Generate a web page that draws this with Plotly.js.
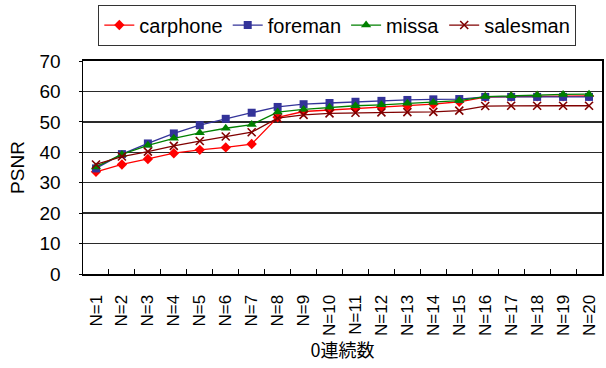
<!DOCTYPE html>
<html>
<head>
<meta charset="utf-8">
<script src="https://cdn.plot.ly/plotly-3.0.1.min.js"></script>
<style>
  html, body { margin: 0; padding: 0; background: #fff; }
  #chart { width: 606px; height: 368px; }
</style>
</head>
<body>
<div id="chart"></div>
<script>
// Category labels: number of consecutive zeros
const categories = ["N=1","N=2","N=3","N=4","N=5","N=6","N=7","N=8","N=9","N=10",
                    "N=11","N=12","N=13","N=14","N=15","N=16","N=17","N=18","N=19","N=20"];

// PSNR per sequence
const carphone = [33.6,36.0,37.8,39.7,40.8,41.6,42.7,51.5,53.4,53.9,54.4,55.0,55.3,55.8,56.6,58.1,58.3,58.4,58.4,58.5];
const foreman  = [34.7,39.4,42.9,46.2,48.9,51.0,53.0,54.9,55.8,56.2,56.6,56.9,57.2,57.4,57.5,58.2,58.2,58.2,58.2,58.2];
const missa    = [35.2,39.3,42.3,44.6,46.4,47.9,49.1,53.2,54.1,54.8,55.3,55.6,56.1,56.4,57.0,58.3,58.6,58.8,59.0,59.1];
const salesman = [36.0,38.6,40.2,42.1,43.7,45.2,46.6,51.2,52.3,52.8,53.0,53.1,53.2,53.3,53.7,55.2,55.3,55.3,55.3,55.3];

const yTicks = [0,10,20,30,40,50,60,70];

const FONT = "Liberation Sans, Arial, sans-serif";

function series(name, y, color, symbol, size, extra) {
  return Object.assign({
    type: "scatter",
    mode: "lines+markers",
    name: name,
    x: categories,
    y: y,
    line: { color: color, width: 1.3 },
    marker: { symbol: symbol, size: size, color: color, line: { width: 0 } }
  }, extra || {});
}

const traces = [
  series("carphone", carphone, "#FF0000", "diamond", 8),
  series("foreman",  foreman,  "#333399", "square", 8),
  series("missa",    missa,    "#008000", "triangle-up", 9),
  series("salesman", salesman, "#800000", "x-thin-open", 8,
         { marker: { symbol: "x-thin-open", size: 8, color: "#800000", line: { width: 1.6, color: "#800000" } } })
];

const layout = {
  width: 606,
  height: 368,
  margin: { l: 83, r: 4, t: 61, b: 94 },
  paper_bgcolor: "#ffffff",
  plot_bgcolor: "#ffffff",
  font: { family: FONT, color: "#000000" },
  showlegend: true,
  legend: {
    orientation: "h",
    x: 0.49, xanchor: "center",
    y: 1.265, yanchor: "top",
    bordercolor: "#333333",
    borderwidth: 1,
    font: { family: FONT, size: 20, color: "#000" },
    itemwidth: 30,
    tracegroupgap: 0
  },
  xaxis: {
    type: "category",
    range: [-0.5, categories.length - 0.5],
    autorange: false,
    tickvals: categories,
    ticktext: categories,
    tickangle: -90,
    tickfont: { family: FONT, size: 17 },
    ticks: "inside",
    tickson: "boundaries",
    ticklen: 5,
    tickcolor: "#000",
    showline: true,
    linecolor: "#000",
    linewidth: 2,
    mirror: true,
    showgrid: false,
    zeroline: false,
    ticklabelstandoff: 12,
    title: { text: "0連続数", font: { family: "Noto Sans CJK JP, " + FONT, size: 18 }, standoff: 7 }
  },
  yaxis: {
    range: [0, 70],
    autorange: false,
    tickvals: yTicks,
    ticktext: yTicks.map(String),
    tickfont: { family: FONT, size: 19 },
    ticks: "outside",
    ticklen: 3,
    tickcolor: "#000",
    showline: true,
    linecolor: "#000",
    linewidth: 1.5,
    mirror: true,
    showgrid: true,
    gridcolor: "#2a2a2a",
    gridwidth: 1.4,
    zeroline: false,
    ticklabelstandoff: 14,
    title: { text: "PSNR", font: { family: FONT, size: 19 }, standoff: 10 }
  }
};

Plotly.newPlot("chart", traces, layout, { displayModeBar: false, staticPlot: true });
</script>
</body>
</html>
